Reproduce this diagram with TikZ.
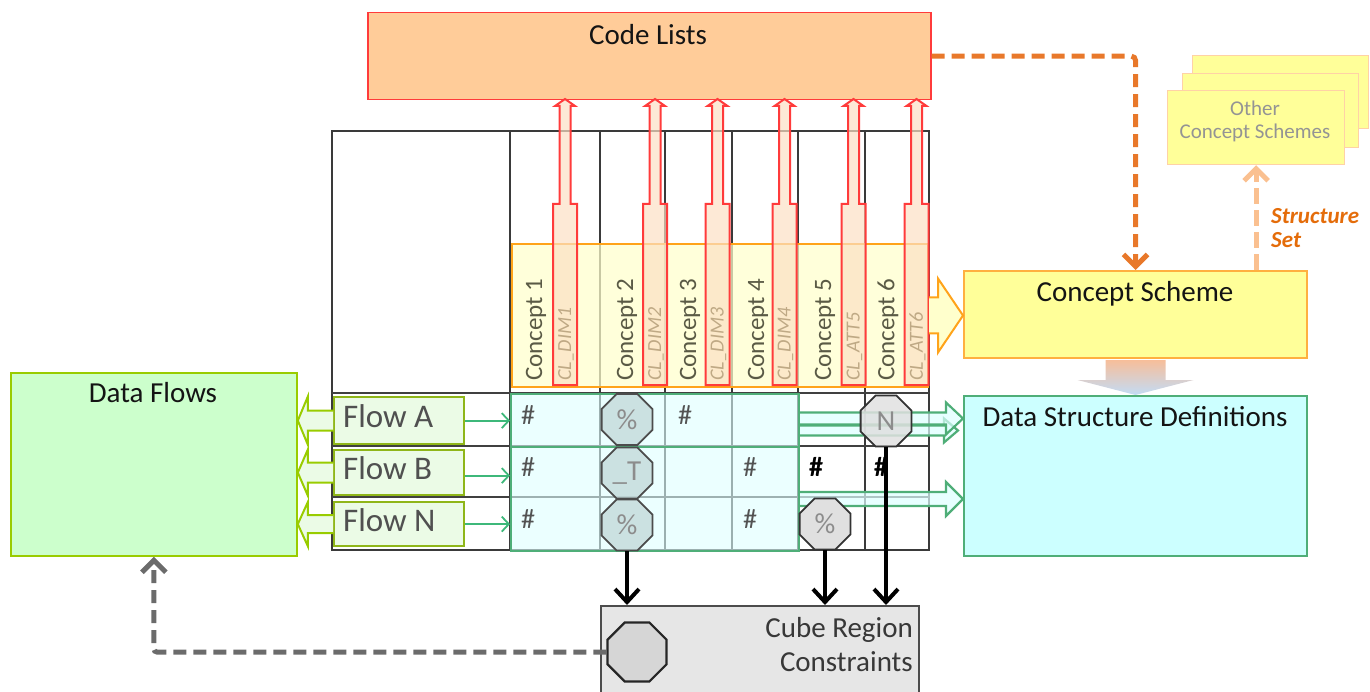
\documentclass[tikz,border=0pt]{standalone}
\usepackage{fontspec}
\setmainfont{Carlito}
\usetikzlibrary{arrows.meta,calc,shapes.geometric}

\definecolor{clfill}{HTML}{FFCC99}
\definecolor{clred}{HTML}{FF3B3B}
\definecolor{gridc}{HTML}{3A3A3A}
\definecolor{conyel}{HTML}{FFFFCC}
\definecolor{conor}{HTML}{FFA31A}
\definecolor{dsdfill}{HTML}{CCFFFF}
\definecolor{dsdgreen}{HTML}{4FAE78}
\definecolor{gboxfill}{HTML}{DDFFFF}
\definecolor{dffill}{HTML}{CCFFCC}
\definecolor{dfgreen}{HTML}{99CC00}
\definecolor{flowfill}{HTML}{EBFBE6}
\definecolor{csfill}{HTML}{FFFF99}
\definecolor{csborder}{HTML}{FFB040}
\definecolor{ocsborder}{HTML}{FFD2A6}
\definecolor{darkor}{HTML}{E8782A}
\definecolor{lightor}{HTML}{FAC090}
\definecolor{sstext}{HTML}{E46C0A}
\definecolor{cubefill}{HTML}{E6E6E6}
\definecolor{octteal}{HTML}{C4D9D9}
\definecolor{octgray}{HTML}{E0E0E0}
\definecolor{peach}{HTML}{FCE0C4}
\definecolor{cltext}{HTML}{BFA985}
\definecolor{context}{HTML}{5A5A45}
\definecolor{flowtext}{HTML}{505050}
\definecolor{thinarr}{HTML}{3DB87A}
\definecolor{dashgray}{HTML}{6B6B6B}
\definecolor{gradtop}{HTML}{F7BE9A}
\definecolor{gradbot}{HTML}{C2DCF6}

\newcommand\hollowarrow[6]{%
  \draw[#1] ($(#2)+(0,#4)$) -- ($(#3)+(#6,#4)$) -- ($(#3)+(#6,#5)$) -- (#3)
    -- ($(#3)+(#6,-#5)$) -- ($(#3)+(#6,-#4)$) -- ($(#2)+(0,-#4)$);}

\newcommand\clarrow[1]{%
  \draw[clarr] ({#1-12},385) -- ({#1-12},204) -- ({#1-5.5},204) -- ({#1-5.5},106)
    -- ({#1-10},106) -- (#1,99) -- ({#1+10},106) -- ({#1+5.5},106) -- ({#1+5.5},204)
    -- ({#1+12},204) -- ({#1+12},385) -- cycle;}

\begin{document}
\begin{tikzpicture}[x=1pt,y=-1pt,
  box/.style={draw, rectangle, inner sep=0pt, anchor=north west},
  title/.style={font=\fontsize{29}{34}\selectfont, text=black!92},
  flowt/.style={font=\fontsize{33}{38}\selectfont, text=flowtext, anchor=west, inner sep=0pt},
  cubet/.style={font=\fontsize{29}{34}\selectfont, text=black!78, anchor=east, inner sep=0pt},
  othert/.style={font=\fontsize{21}{25}\selectfont, text=black!42},
  sst/.style={font=\fontsize{23}{27}\selectfont\bfseries\itshape, text=sstext, anchor=west, inner sep=0pt},
  conlab/.style={font=\fontsize{25}{30}\selectfont, text=context, rotate=90, anchor=west, inner sep=0pt},
  cllab/.style={font=\fontsize{20}{24}\selectfont\itshape, text=cltext, rotate=90, anchor=west, inner sep=0pt},
  hashg/.style={font=\fontsize{28}{32}\selectfont, text=black!68},
  hashb/.style={font=\fontsize{28}{32}\selectfont\bfseries, text=black},
  octbase/.style={regular polygon, regular polygon sides=8, minimum size=55pt, inner sep=0pt,
    line width=1.8pt, text opacity=1, font=\fontsize{29}{32}\selectfont, text=black!45},
  octt/.style={octbase, draw=black!70, fill=octteal, fill opacity=0.8},
  octg/.style={octbase, draw=black!80, fill=octgray},
  gridl/.style={draw=gridc, line width=1.5pt},
  gridrow/.style={draw=black!75, line width=2.6pt},
  clarr/.style={draw=clred, line width=2pt, fill=peach, fill opacity=0.7},
  blk/.style={line width=4pt, black, -{Straight Barb[length=13pt,width=24pt]}},
  thin/.style={line width=1.8pt, thinarr, -{Straight Barb[length=7pt,width=15pt]}},
  dflow/.style={draw=dfgreen, line width=2pt, fill=flowfill},
  dsdarr/.style={draw=dsdgreen, line width=2.2pt, fill=gboxfill, fill opacity=0.7, draw opacity=1},
  conarr/.style={draw=conor, line width=2pt, fill=conyel},
  dashd/.style={line width=5pt, dash pattern=on 13pt off 7pt, -{Straight Barb[length=12pt,width=24pt]}}
]
\useasboundingbox (0,0) rectangle (1370,692);

% ---------- grid ----------
\draw[gridl] (332,131) rectangle (929,550);
\foreach \x in {510,600,665,732,798,865} \draw[gridl] (\x,131) -- (\x,550);
\foreach \y in {393,446,497} \draw[gridrow] (332,\y) -- (929,\y);

% ---------- boxes ----------
\node[box, draw=clred, line width=1.5pt, fill=clfill, minimum width=563pt, minimum height=87pt] (codelists) at (367,12) {};
\node[title] (codelists-t) at (648,35) {Code Lists};

\node[box, draw=conor, line width=2pt, fill=conyel, fill opacity=0.72, draw opacity=1, minimum width=416pt, minimum height=143pt] (concepts) at (511,243) {};

\node[box, draw=dsdgreen, line width=2pt, fill=gboxfill, fill opacity=0.6, draw opacity=1, minimum width=288pt, minimum height=53pt] (greenA) at (510,393) {};
\node[box, draw=dsdgreen, line width=2pt, fill=gboxfill, fill opacity=0.6, draw opacity=1, minimum width=288pt, minimum height=104pt] (greenB) at (510,446) {};

\node[box, draw=dfgreen, line width=1.8pt, fill=dffill, minimum width=286pt, minimum height=183pt] (dataflows) at (10,372) {};
\node[title] (dataflows-t) at (153,393) {Data Flows};

\node[box, draw=csborder, line width=2pt, fill=csfill, minimum width=343pt, minimum height=87pt] (cscheme) at (963,270) {};
\node[title] (cscheme-t) at (1135,294) {Concept Scheme};

\node[box, draw=dsdgreen, line width=2pt, fill=dsdfill, minimum width=343pt, minimum height=160pt] (dsd) at (963,395) {};
\node[title] (dsd-t) at (1135,417) {Data Structure Definitions};

\node[box, draw=ocsborder, line width=1.2pt, fill=csfill, minimum width=176pt, minimum height=73pt] (other3) at (1192,55) {};
\node[box, draw=ocsborder, line width=1.2pt, fill=csfill, minimum width=176pt, minimum height=74pt] (other2) at (1182,73) {};
\node[box, draw=ocsborder, line width=1.2pt, fill=csfill, minimum width=177pt, minimum height=74pt] (other1) at (1167,90) {};
\node[othert] (other-t1) at (1255,108) {Other};
\node[othert] (other-t2) at (1255,133) {Concept Schemes};

\node[box, draw=black!70, line width=2pt, fill=cubefill, minimum width=318pt, minimum height=95pt] (cube) at (600,605) {};
\node[cubet] (cube-t1) at (913,630) {Cube Region};
\node[cubet] (cube-t2) at (913,662) {Constraints};
\node[octbase, draw=black!85, line width=2.2pt, fill=black!16, minimum size=64pt] (cubeoct) at (637,652) {};

% ---------- flows ----------
\node[box, draw=dfgreen!85!black!90, line width=2.2pt, fill=flowfill, minimum width=130pt, minimum height=47pt] (flowA) at (333,396) {};
\node[box, draw=dfgreen!85!black!90, line width=2.2pt, fill=flowfill, minimum width=130pt, minimum height=45pt] (flowB) at (333,449) {};
\node[box, draw=dfgreen!85!black!90, line width=2.2pt, fill=flowfill, minimum width=130pt, minimum height=44pt] (flowN) at (333,501) {};
\node[flowt] (flowA-t) at ($(flowA.west)+(10,-4)$) {Flow A};
\node[flowt] (flowB-t) at ($(flowB.west)+(10,-4)$) {Flow B};
\node[flowt] (flowN-t) at ($(flowN.west)+(10,-4)$) {Flow N};

% hollow arrows Flow -> Data Flows
\coordinate (faT) at (flowA.west); \coordinate (faH) at (dataflows.east |- flowA.west);
\coordinate (fbT) at (flowB.west); \coordinate (fbH) at (dataflows.east |- flowB.west);
\coordinate (fnT) at (flowN.west); \coordinate (fnH) at (dataflows.east |- flowN.west);
\hollowarrow{dflow}{faT}{faH}{10}{24}{10}
\hollowarrow{dflow}{fbT}{fbH}{10}{23}{10}
\hollowarrow{dflow}{fnT}{fnH}{9}{22}{10}

% thin green arrows Flow -> DSD region
\draw[thin] (flowA.east) -- (flowA.east -| greenA.west);
\draw[thin] ($(flowB.east)+(0,3)$) -- ($(flowB.east -| greenA.west)+(0,3)$);
\draw[thin] (flowN.east) -- (flowN.east -| greenA.west);

% ---------- red code-list arrows ----------
\clarrow{565}
\clarrow{655}
\clarrow{717.5}
\clarrow{784.5}
\clarrow{853.5}
\clarrow{916.5}

% ---------- concept labels ----------
\node[conlab] (c1) at (536,381) {Concept 1};
\node[conlab] (c2) at (627,381) {Concept 2};
\node[conlab] (c3) at (690,381) {Concept 3};
\node[conlab] (c4) at (758,381) {Concept 4};
\node[conlab] (c5) at (825,381) {Concept 5};
\node[conlab] (c6) at (888,381) {Concept 6};
\node[cllab] (cl1) at (566,381) {CL\_DIM1};
\node[cllab] (cl2) at (656,381) {CL\_DIM2};
\node[cllab] (cl3) at (718.5,381) {CL\_DIM3};
\node[cllab] (cl4) at (785.5,381) {CL\_DIM4};
\node[cllab] (cl5) at (854.5,381) {CL\_ATT5};
\node[cllab] (cl6) at (917.5,381) {CL\_ATT6};

% concept area -> Concept Scheme
\coordinate (caT) at (concepts.east); \coordinate (caH) at (cscheme.west |- concepts.east);
\hollowarrow{conarr}{caT}{caH}{18}{37}{-25}

% DSD region -> DSD
\coordinate (g1T) at ($(greenA.east)+(0,-2)$); \coordinate (g1H) at (dsd.west |- g1T);
\coordinate (g2T) at ($(greenA.east)+(0,10)$); \coordinate (g2H) at ($(dsd.west |- g2T)+(-5,0)$);
\coordinate (g3T) at (greenB.east); \coordinate (g3H) at (dsd.west |- greenB.east);
\hollowarrow{dsdarr}{g2T}{g2H}{5}{12}{-14}
\hollowarrow{dsdarr}{g1T}{g1H}{6}{16}{-17}
\hollowarrow{dsdarr}{g3T}{g3H}{7}{17}{-17}

% ---------- cell contents ----------
\node[hashg] (hA1) at (528,415) {\#};
\node[hashg] (hA3) at (685,415) {\#};
\node[hashg] (hB1) at (528,467) {\#};
\node[hashg] (hB4) at (750,467) {\#};
\node[hashb] (hB5) at (816,467) {\#};
\node[hashb] (hB6) at (881,467) {\#};
\node[hashg] (hN1) at (528,519) {\#};
\node[hashg] (hN4) at (750,519) {\#};

\node[octt] (o2a) at (627,419.5) {\%};
\node[octt] (o2b) at (627,473) {\_T};
\node[octt] (o2n) at (627,525) {\%};
\node[octg, fill opacity=0.85] (o6a) at (886,421) {N};
\node[octg] (o5n) at (825,524) {\%};

% ---------- connectors ----------
\draw[blk] (o2n.south) -- (cube.north -| o2n.south);
\draw[blk] (o5n.south) -- (cube.north -| o5n.south);
\draw[blk] (o6a.south) -- (cube.north -| o6a.south);

\draw[dashd, dashgray, rounded corners=3pt] (cubeoct.west) -| (dataflows.south);
\draw[dashd, darkor, rounded corners=4pt] (codelists.east) -| (cscheme.north);
\draw[dashd, lightor, dash pattern=on 16pt off 6pt] (other1.south |- cscheme.north) -- (other1.south);
\node[sst] (ss1) at (1271,216) {Structure};
\node[sst] (ss2) at (1271,240) {Set};

% gradient arrow Concept Scheme -> DSD
\shade[top color=gradtop, bottom color=gradbot]
  ($(cscheme.south)+(-30,1)$) -- ($(cscheme.south)+(30,1)$) -- ($(cscheme.south)+(30,21)$)
  -- ($(cscheme.south)+(58,21)$) -- (dsd.north) -- ($(cscheme.south)+(-58,21)$)
  -- ($(cscheme.south)+(-30,21)$) -- cycle;
\end{tikzpicture}
\end{document}
